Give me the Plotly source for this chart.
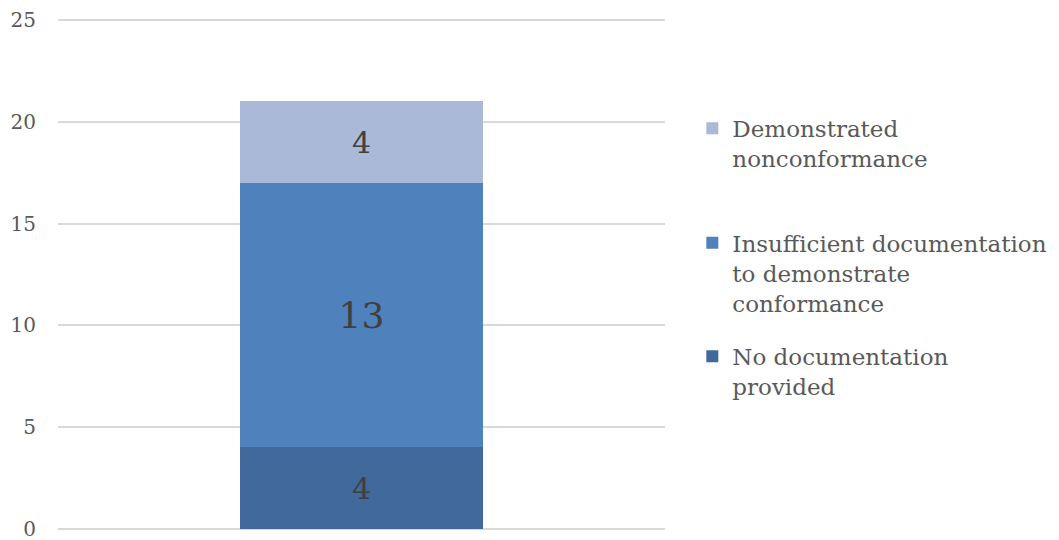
import plotly.graph_objects as go

categories = ["All"]
series_names = [
    "No documentation<br>provided",
    "Insufficient documentation<br>to demonstrate<br>conformance",
    "Demonstrated<br>nonconformance",
]
no_doc = [4]
insufficient = [13]
demonstrated = [4]
y_ticks = [0, 5, 10, 15, 20, 25]

colors = ["#41699b", "#4f81bd", "#a9b9d7"]
label_sizes = [30, 36, 30]
values = [no_doc, insufficient, demonstrated]
legends = ["legend3", "legend2", "legend"]

FONT = "DejaVu Serif"

fig = go.Figure()
for name, vals, col, ls, lg in zip(series_names, values, colors, label_sizes, legends):
    fig.add_trace(go.Bar(
        x=categories, y=vals, name=name,
        marker=dict(color=col, line=dict(width=0)),
        text=[str(v) for v in vals], textposition="inside",
        insidetextanchor="middle",
        textfont=dict(family=FONT, size=ls, color="#404040"),
        width=0.4, legend=lg,
    ))

leg_common = dict(
    font=dict(family=FONT, size=23, color="#595959"),
    bgcolor="rgba(0,0,0,0)", xanchor="left", yanchor="top",
    valign="top", itemwidth=30, tracegroupgap=0,
)
fig.update_layout(
    barmode="stack",
    width=1059, height=540,
    margin=dict(l=50, r=402, t=10, b=19, autoexpand=False),
    plot_bgcolor="white", paper_bgcolor="white",
    showlegend=True,
    legend=dict(x=1.045, y=0.826, **leg_common),
    legend2=dict(x=1.045, y=0.602, **leg_common),
    legend3=dict(x=1.045, y=0.380, **leg_common),
    xaxis=dict(visible=False, range=[-0.5, 0.5]),
    yaxis=dict(
        range=[-0.01, 25.1], tickvals=y_ticks, showgrid=True,
        gridcolor="#d9d9d9", gridwidth=1.5, zeroline=True,
        zerolinecolor="#d9d9d9", zerolinewidth=1.5,
        showline=False, ticks="", automargin=False,
        tickfont=dict(family=FONT, size=20, color="#595959"),
        ticklabelstandoff=21,
    ),
)

fig.write_html("out.html")
